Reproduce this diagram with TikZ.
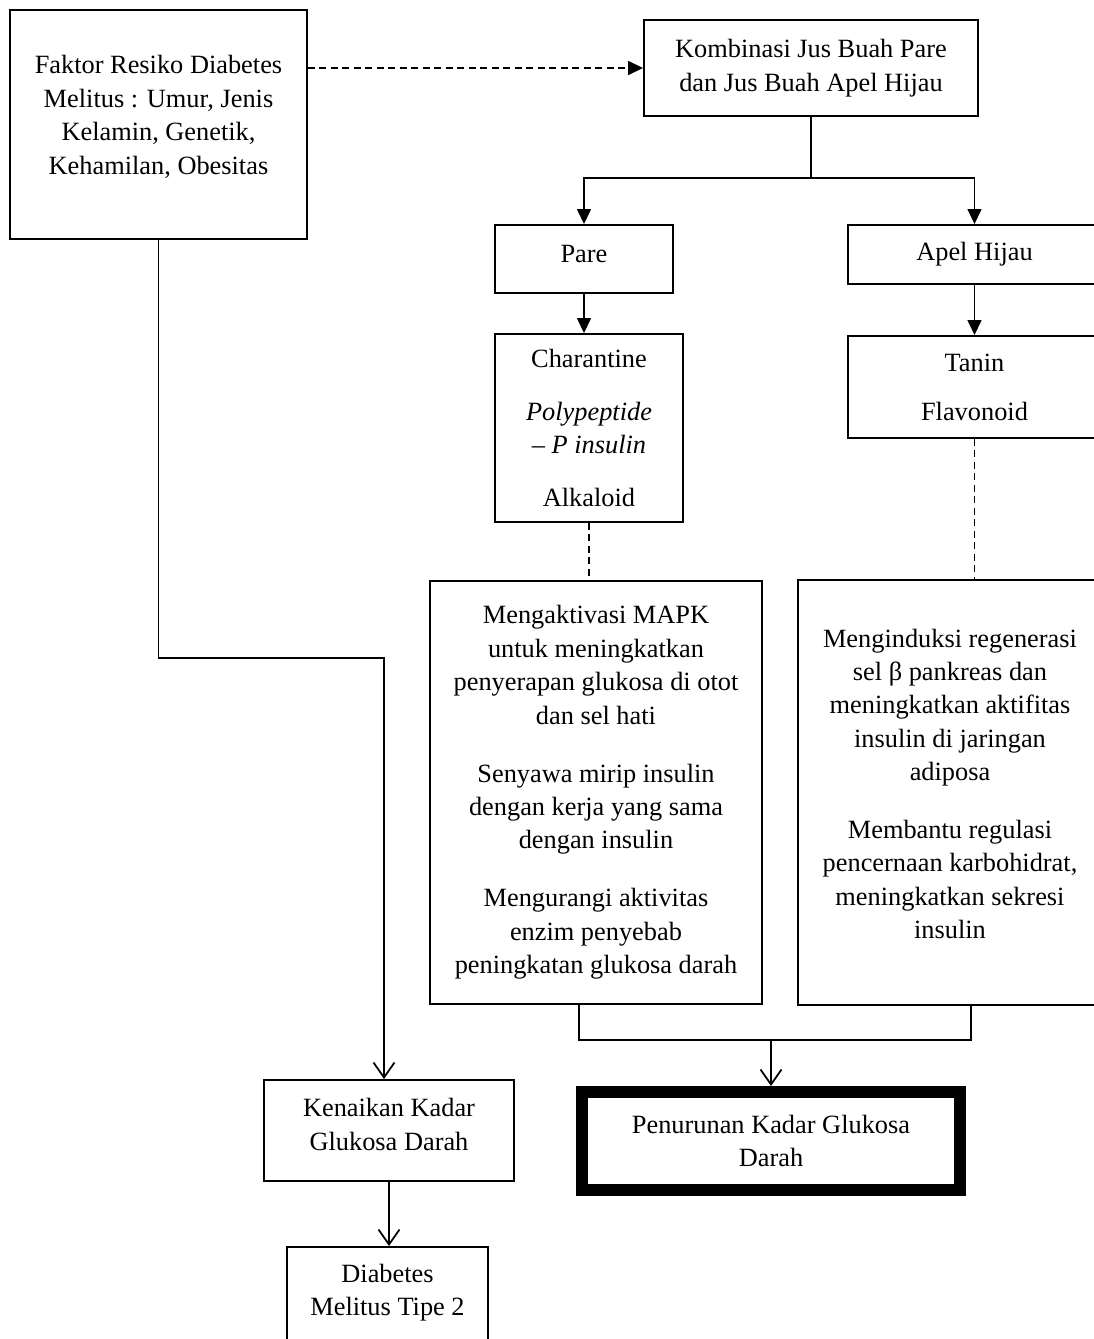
\documentclass[tikz,border=0pt]{standalone}
\usepackage{fontspec}
\setmainfont{Liberation Serif}
\usetikzlibrary{positioning,arrows.meta,calc}

\begin{document}
\begin{tikzpicture}[
    x=0.02cm, y=-0.02cm,
    box/.style={draw,line width=1.1pt,align=center,inner sep=0pt,font=\fontsize{15}{19}\selectfont},
    link/.style={line width=0.8pt},
    arrow/.style={-{Triangle[length=0.3cm,width=0.28cm]},line width=0.8pt},
    openarrow/.style={-{Straight Barb[length=0.3cm,width=0.42cm]},line width=1pt},
    dashlink/.style={line width=0.8pt,dash pattern=on 0.14cm off 0.09cm},
]
\useasboundingbox (0,0) rectangle (1094,1339);

% top row
\node[box,minimum width=5.94cm,minimum height=4.58cm,text depth=11pt] (faktor) at (158.5,124.5)
  {Faktor Resiko Diabetes\\Melitus : Umur, Jenis\\Kelamin, Genetik,\\Kehamilan, Obesitas};
\node[box,minimum width=6.68cm,minimum height=1.92cm] (kombi) at (811,68)
  {Kombinasi Jus Buah Pare\\dan Jus Buah Apel Hijau};

% the two fruits
\node[box,minimum width=3.56cm,minimum height=1.36cm,text depth=6pt] (pare) at (584,259) {Pare};
\node[box,minimum width=5.06cm,minimum height=1.18cm] (apel) at (974.5,254.5) {Apel Hijau};
\node[box,minimum width=3.76cm,minimum height=3.76cm] (charan) at (589,428)
  {Charantine\\[11pt]\textit{Polypeptide}\\\textit{– P insulin}\\[11pt]Alkaloid};
\node[box,minimum width=5.06cm,minimum height=2.04cm] (tanin) at (974.5,387)
  {Tanin\\[9pt]Flavonoid};

% effects
\node[box,minimum width=6.64cm,minimum height=8.46cm] (mapk) at (596,792.5)
  {Mengaktivasi MAPK\\untuk meningkatkan\\penyerapan glukosa di otot\\dan sel hati\\[14pt]%
   Senyawa mirip insulin\\dengan kerja yang sama\\dengan insulin\\[14pt]%
   Mengurangi aktivitas\\enzim penyebab\\peningkatan glukosa darah};
\node[box,minimum width=6.08cm,minimum height=8.5cm,text depth=10pt] (regen) at (950,792.5)
  {Menginduksi regenerasi\\sel β pankreas dan\\meningkatkan aktifitas\\insulin di jaringan\\adiposa\\[14pt]%
   Membantu regulasi\\pencernaan karbohidrat,\\meningkatkan sekresi\\insulin};

% outcomes
\node[box,line width=0.24cm,minimum width=7.56cm,minimum height=1.96cm] (turun) at (771,1141)
  {Penurunan Kadar Glukosa\\Darah};
\node[box,minimum width=5.0cm,minimum height=2.02cm,text depth=7pt] (naik) at (389,1130.5)
  {Kenaikan Kadar\\Glukosa Darah};
\node[box,minimum width=4.02cm,minimum height=2.02cm,text depth=9pt] (dm) at (387.5,1297.5)
  {Diabetes\\Melitus Tipe 2};

% connectors
\draw[arrow,dashlink] (faktor.east |- kombi.west) -- (kombi.west);
\coordinate (split) at (811,178);
\draw[link] (kombi.south) -- (split);
\draw[arrow] (split) -| (pare.north);
\draw[arrow] (split) -| (apel.north);
\draw[arrow] (pare.south) -- (pare.south |- charan.north);
\draw[arrow] (apel) -- (tanin);
\draw[dashlink] (charan.south) -- (charan.south |- mapk.north);
\draw[dashlink] (tanin.south) -- (tanin.south |- regen.north);

% join both effects into the outcome
\coordinate (joinL) at (579,1040);
\coordinate (joinR) at (971,1040);
\draw[link] (joinL |- mapk.south) -- (joinL) -- (joinR) -- (joinR |- regen.south);
\draw[openarrow] (turun.north |- joinL) -- (turun.north);

% risk factor branch
\coordinate (bend) at (384,658);
\draw[openarrow] (faktor.south) |- (bend) -- (bend |- naik.north);
\draw[openarrow] (naik.south) -- (naik.south |- dm.north);
\end{tikzpicture}
\end{document}
